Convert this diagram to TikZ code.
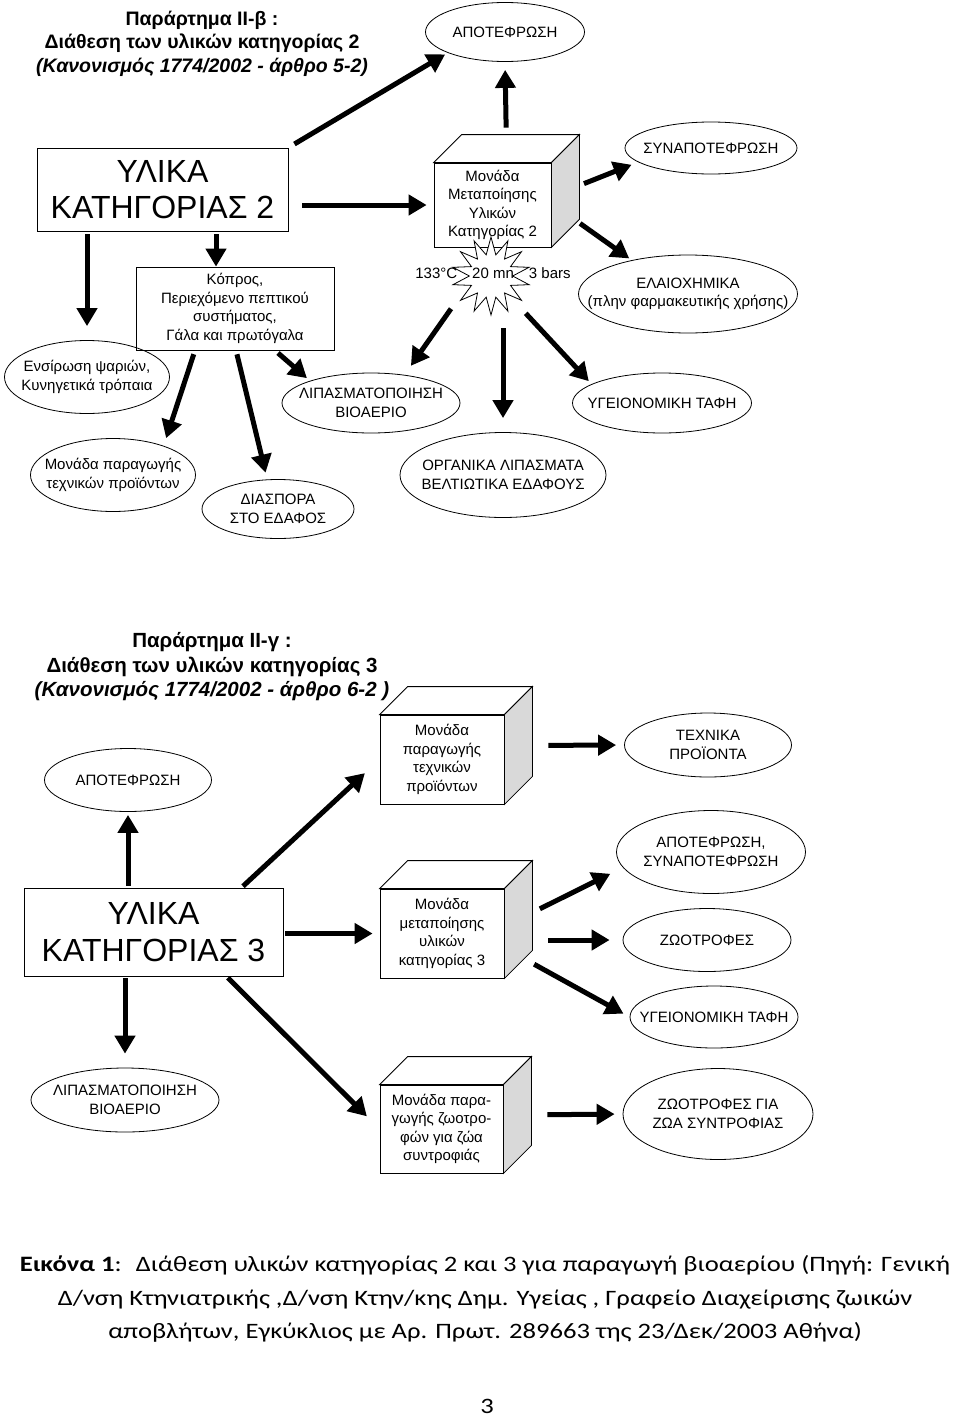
\documentclass[tikz,border=0pt]{standalone}
\usepackage{fontspec}
\setmainfont{Liberation Sans}
\newfontfamily\capfont[FakeStretch=1.21]{Carlito}
\usetikzlibrary{arrows.meta,shapes.geometric}

\tikzset{
  lbl/.style={align=center, inner sep=0pt, font=\fontsize{15}{18.5}\selectfont},
  oval/.style n args={3}{ellipse, draw, line width=0.8pt, inner sep=0pt,
    minimum width=#1pt, minimum height=#2pt, label={[lbl]center:{#3}}},
  front/.style={rectangle, draw, line width=0.8pt, fill=white, inner sep=0pt,
    align=center, font=\fontsize{15}{18.5}\selectfont},
  big/.style={rectangle, draw, line width=0.8pt, inner sep=0pt, align=center,
    font=\fontsize{32}{36.5}\selectfont},
  head/.style={align=center, font=\bfseries\fontsize{19.5}{23.5}\selectfont},
  figtxt/.style={align=center, font=\capfont\fontsize{22}{33.5}\selectfont},
}

\newcommand{\drawcube}[1]{%
  \draw[line width=0.8pt, fill=white] (#1.north west) -- ++(28,-28)
    -- ([shift={(28,-28)}]#1.north east) -- (#1.north east) -- cycle;
  \draw[line width=0.8pt, fill=gray!30] (#1.north east) -- ++(28,-28)
    -- ([shift={(28,-28)}]#1.south east) -- (#1.south east) -- cycle;
  \coordinate (#1-top) at ([shift={(14,-14)}]#1.north);
  \coordinate (#1-side) at ([shift={(14,-14)}]#1.east);
}

\begin{document}
\begin{tikzpicture}[x=1pt,y=-1pt]
  \useasboundingbox (0,0) rectangle (960,1416);

  \node[head] (t2) at (202,43.5) {Παράρτημα II-β :\\Διάθεση των υλικών κατηγορίας 2\\\textit{(Κανονισμός 1774/2002 - άρθρο 5-2)}};
  \node[big, minimum width=251pt, minimum height=83pt] (k2) at (162.5,189.5) {ΥΛΙΚΑ\\ΚΑΤΗΓΟΡΙΑΣ 2};
  \node[oval={159}{59}{ΑΠΟΤΕΦΡΩΣΗ}] (ap1) at (505,32) {};
  \node[front, minimum width=117pt, minimum height=84pt] (u2) at (492.5,205) {Μονάδα\\Μεταποίησης\\Υλικών\\Κατηγορίας 2};
  \drawcube{u2}
  \node[star, star points=14, star point ratio=1.8, minimum size=78pt, inner sep=0pt, draw, line width=0.8pt, fill=white] (st) at (491,276) {};
  \node[lbl] (cond) at (493,273) {133°C\hspace{15pt}20 mn\hspace{15pt}3 bars};
  \node[oval={172}{52}{ΣΥΝΑΠΟΤΕΦΡΩΣΗ}] (syn) at (711,148) {};
  \node[oval={219}{78}{ΕΛΑΙΟΧΗΜΙΚΑ\\(πλην φαρμακευτικής χρήσης)}] (ela) at (688,294) {};
  \node[oval={179}{60}{ΥΓΕΙΟΝΟΜΙΚΗ ΤΑΦΗ}] (yt1) at (662,403) {};
  \node[oval={206}{85}{ΟΡΓΑΝΙΚΑ ΛΙΠΑΣΜΑΤΑ\\ΒΕΛΤΙΩΤΙΚΑ ΕΔΑΦΟΥΣ}] (org) at (503,475) {};
  \node[oval={178}{60}{ΛΙΠΑΣΜΑΤΟΠΟΙΗΣΗ\\ΒΙΟΑΕΡΙΟ}] (lip1) at (371,403) {};
  \node[front, minimum width=198pt, minimum height=83pt] (kop) at (235,308.5) {Κόπρος,\\Περιεχόμενο πεπτικού\\συστήματος,\\Γάλα και πρωτόγαλα};
  \node[oval={165}{73}{Ενσίρωση ψαριών,\\Κυνηγετικά τρόπαια}] (ens) at (87,377) {};
  \node[oval={165}{73}{Μονάδα παραγωγής\\τεχνικών προϊόντων}] (mon) at (113,475) {};
  \node[oval={152}{59}{ΔΙΑΣΠΟΡΑ\\ΣΤΟ ΕΔΑΦΟΣ}] (dia) at (278,509) {};
  \coordinate (kopin) at ([xshift=-19pt]kop.north);

  \node[head, font=\bfseries\fontsize{20.5}{24.5}\selectfont] (t3) at (212,667) {Παράρτημα II-γ :\\Διάθεση των υλικών κατηγορίας 3\\\textit{(Κανονισμός 1774/2002 - άρθρο 6-2 )}};
  \node[oval={167}{63}{ΑΠΟΤΕΦΡΩΣΗ}] (ap2) at (128,780) {};
  \node[big, minimum width=259pt, minimum height=88pt] (k3) at (153.5,932) {ΥΛΙΚΑ\\ΚΑΤΗΓΟΡΙΑΣ 3};
  \node[front, minimum width=124pt, minimum height=89pt] (u3a) at (442,759.5) {Μονάδα\\παραγωγής\\τεχνικών\\προϊόντων};
  \drawcube{u3a}
  \node[front, minimum width=124pt, minimum height=89pt] (u3b) at (442,933.5) {Μονάδα\\μεταποίησης\\υλικών\\κατηγορίας 3};
  \drawcube{u3b}
  \node[front, minimum width=123pt, minimum height=88pt] (u3c) at (441.5,1129) {Μονάδα παρα-\\γωγής ζωοτρο-\\φών για ζώα\\συντροφιάς};
  \drawcube{u3c}
  \node[oval={167}{64}{ΤΕΧΝΙΚΑ\\ΠΡΟΪΟΝΤΑ}] (tex) at (708,745) {};
  \node[oval={189}{83}{ΑΠΟΤΕΦΡΩΣΗ,\\ΣΥΝΑΠΟΤΕΦΡΩΣΗ}] (asyn) at (711,852) {};
  \node[oval={168}{63}{ΖΩΟΤΡΟΦΕΣ}] (zoo) at (707,940) {};
  \node[oval={168}{62}{ΥΓΕΙΟΝΟΜΙΚΗ ΤΑΦΗ}] (yt2) at (714,1017) {};
  \node[oval={188}{64}{ΛΙΠΑΣΜΑΤΟΠΟΙΗΣΗ\\ΒΙΟΑΕΡΙΟ}] (lip2) at (125,1100) {};
  \node[oval={190}{91}{ΖΩΟΤΡΟΦΕΣ ΓΙΑ\\ΖΩΑ ΣΥΝΤΡΟΦΙΑΣ}] (pet) at (718,1114) {};

  \node[figtxt] (fig) at (485,1299) {\textbf{Εικόνα 1}:~ Διάθεση υλικών κατηγορίας 2 και 3 για παραγωγή βιοαερίου (Πηγή: Γενική\\Δ/νση Κτηνιατρικής ,Δ/νση Κτην/κης Δημ. Υγείας , Γραφείο Διαχείρισης ζωικών\\αποβλήτων, Εγκύκλιος με Αρ. Πρωτ. 289663 της 23/Δεκ/2003 Αθήνα)};
  \node[figtxt] (pg) at (487,1406) {3};

  \begin{scope}[line width=5pt, -{Triangle[length=18pt,width=20pt]}]
    \draw[shorten <=7pt, shorten >=3pt] (k2.north east) to (ap1.200);
    \draw[shorten <=14pt, shorten >=7pt] (k2.east |- u2.west) to (u2.west);
    \draw[shorten <=21pt, shorten >=8pt] (u2-top) to (ap1.south);
    \draw[shorten <=20pt, shorten >=7pt] (u2-side) to (syn.191);
    \draw[shorten <=18pt, shorten >=3pt] ([yshift=-22pt]u2-side) to (ela.149);
    \draw[shorten <=40pt, shorten >=11pt] ([xshift=-17pt]st.center) to (lip1.40);
    \draw[shorten <=52pt, shorten >=14pt] (st.center -| org.north) to (org.north);
    \draw[shorten <=51pt, shorten >=4pt] (st.center) to (yt1.165);
    \draw[shorten <=3pt] (kopin |- k2.south) to (kopin);
    \draw[shorten <=3pt, shorten >=14pt] (ens.north |- k2.south) to (ens.north);
    \draw[shorten <=4pt, shorten >=8pt] ([xshift=-40pt]kop.south) to (mon.30);
    \draw[shorten <=4pt, shorten >=7pt] ([xshift=1pt]kop.south) to (dia.110);
    \draw[shorten <=4pt, shorten >=4pt] ([xshift=40pt]kop.south) to (lip1.160);

    \draw[shorten <=2pt, shorten >=3pt] (ap2.south |- k3.north) to (ap2.south);
    \draw[shorten <=2pt, shorten >=20pt] ([xshift=88pt]k3.north) to (u3a.west);
    \draw[shorten <=2pt, shorten >=7pt] (k3.east |- u3b.west) to (u3b.west);
    \draw[shorten <=2pt, shorten >=14pt] (lip2.north |- k3.south) to (lip2.north);
    \draw[shorten <=2pt, shorten >=18pt] ([xshift=73pt]k3.south) to (u3c.west);
    \draw[shorten <=30pt, shorten >=8pt] (u3a-side) to (tex.west);
    \draw[shorten <=24pt, shorten >=14pt] (u3b-side) to (asyn.190);
    \draw[shorten <=30pt, shorten >=13pt] (u3b-side |- zoo.west) to (zoo.west);
    \draw[shorten <=18pt, shorten >=7pt] ([yshift=-36pt]u3b-side) to (yt2.west);
    \draw[shorten <=30pt, shorten >=8pt] (u3c-side) to (pet.west);
  \end{scope}
\end{tikzpicture}
\end{document}
